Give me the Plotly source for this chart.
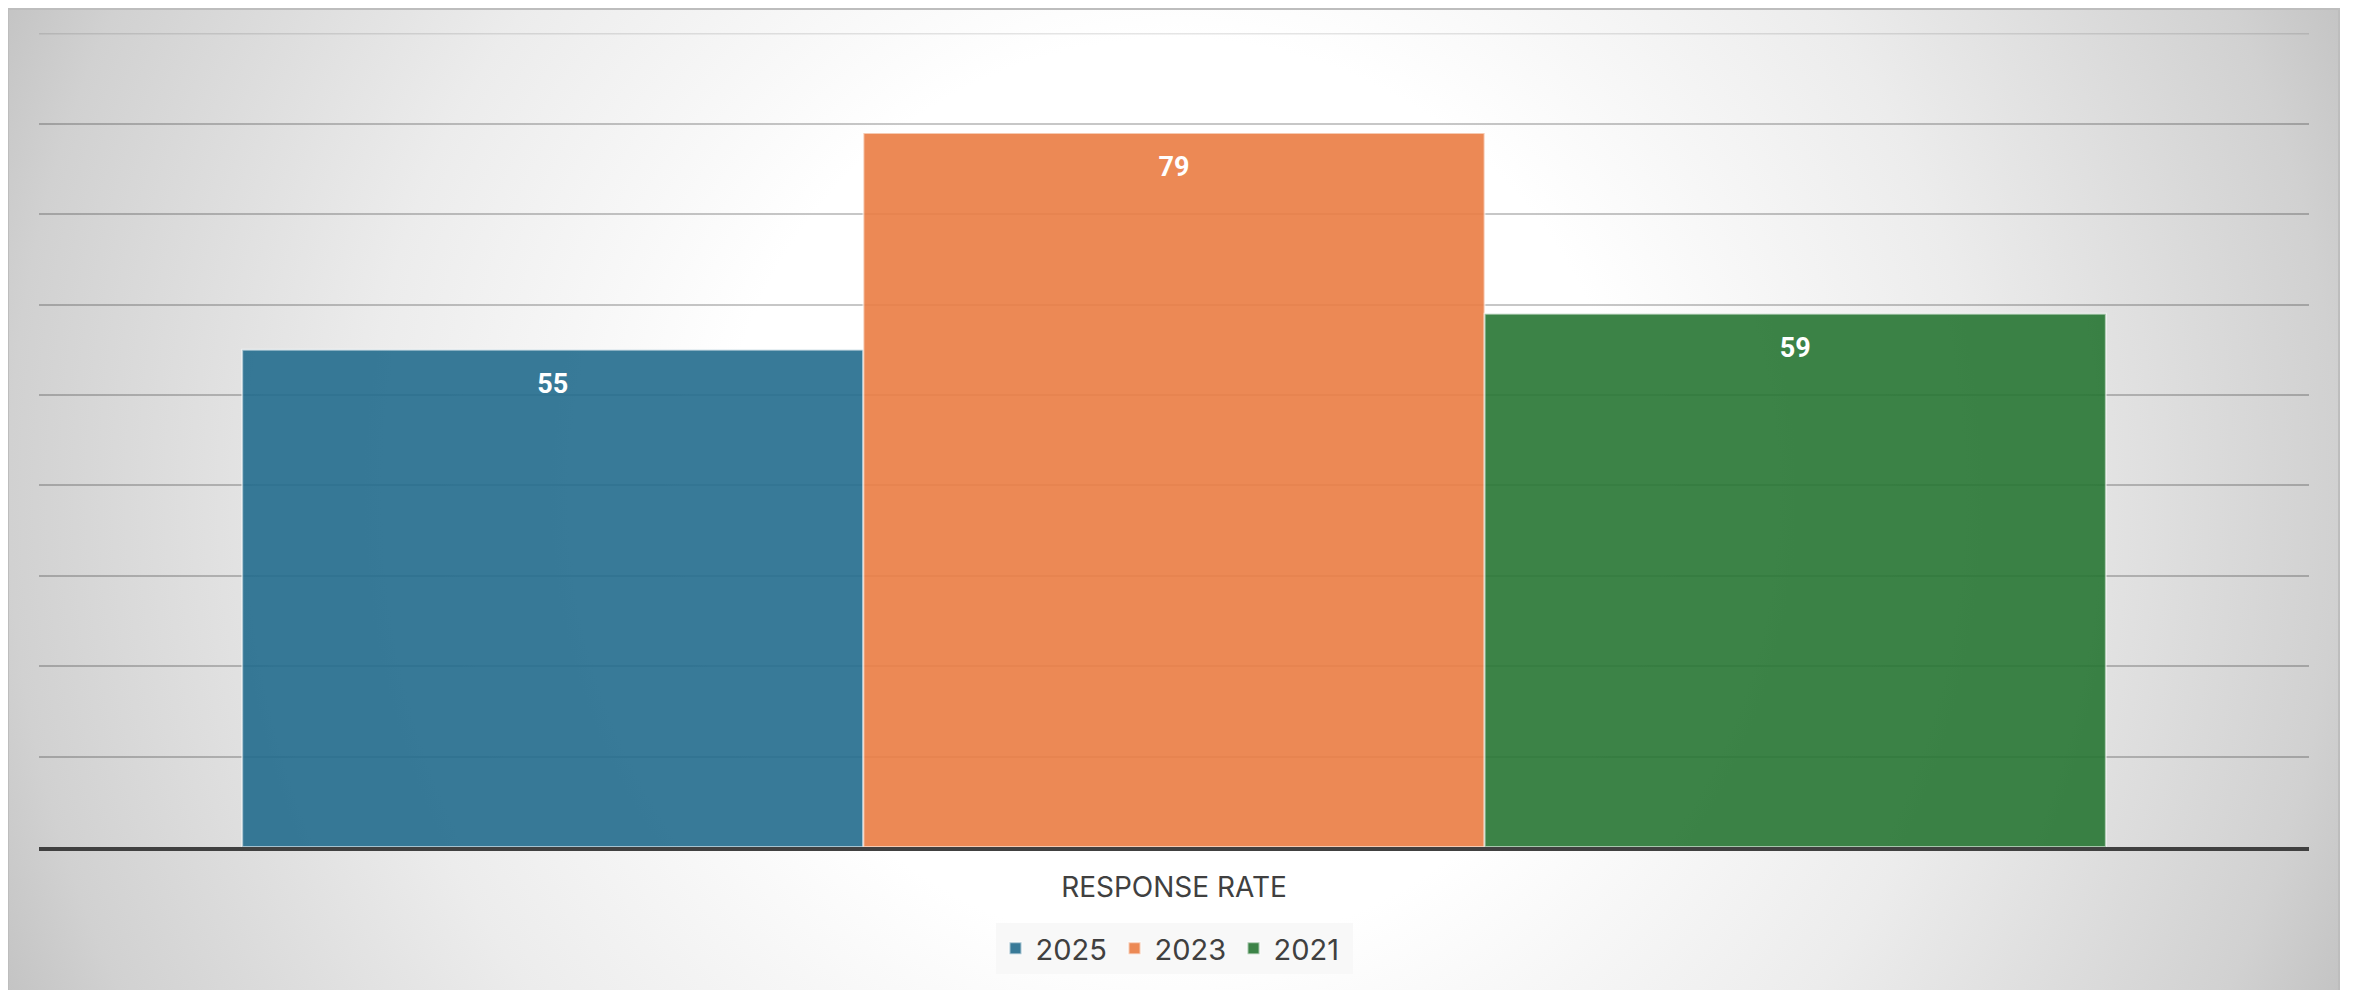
import base64
import plotly.graph_objects as go

# ---- data ----
categories = ["RESPONSE RATE"]
series_names = ["2025", "2023", "2021"]
values_2025 = [55]
values_2023 = [79]
values_2021 = [59]
series_values = [values_2025, values_2023, values_2021]
bar_colors = ["rgba(34,108,141,0.9)", "rgba(234,124,66,0.9)", "rgba(39,117,51,0.9)"]
y_max = 90

# page has an 8px body margin: figure coords = page coords - 8
OFF = 8
W, H = 2354 - OFF, 990 - OFF
L, R, T, B = 39 - OFF, 2354 - 2309, 33 - OFF, 990 - 847
pw, ph = W - L - R, H - T - B

def px_to_paper_x(px):
    return (px - OFF - L) / pw

def px_to_paper_y(py):
    return (H - B - (py - OFF)) / ph

# card region in page pixels
cx0, cy0, cx1, cy1 = 8, 9, 2339, 996
cw, ch = cx1 - cx0, cy1 - cy0

svg = f'''<svg xmlns="http://www.w3.org/2000/svg" width="{cw}" height="{ch}" viewBox="0 0 {cw} {ch}" preserveAspectRatio="none">
<defs><radialGradient id="g" gradientUnits="userSpaceOnUse" cx="{cw/2}" cy="{ch/2 - 8}" r="{((cw/2)**2+(ch/2)**2)**0.5}">
<stop offset="0" stop-color="#ffffff"/>
<stop offset="0.36" stop-color="#ffffff"/>
<stop offset="0.64" stop-color="#ececec"/>
<stop offset="0.92" stop-color="#d1d1d1"/>
<stop offset="1" stop-color="#c4c4c4"/>
</radialGradient></defs>
<rect x="0" y="0" width="{cw}" height="{ch}" fill="url(#g)"/>
</svg>'''
svg_uri = "data:image/svg+xml;base64," + base64.b64encode(svg.encode()).decode()

label_tpl = "<span style='font-size:5px;color:rgba(0,0,0,0)'>.</span><br>%{y}"

fig = go.Figure()
for name, vals, col in zip(series_names, series_values, bar_colors):
    fig.add_trace(go.Bar(
        name=name, x=categories, y=vals,
        marker=dict(color=col, line=dict(color="rgba(255,255,255,0.55)", width=2)),
        texttemplate=label_tpl,
        textposition="inside", insidetextanchor="end",
        textfont=dict(color="white", size=27, family="Roboto", weight="bold"),
        textangle=0,
    ))

fig.update_layout(
    width=W, height=H,
    margin=dict(l=L, r=R, t=T, b=B),
    paper_bgcolor="white",
    plot_bgcolor="rgba(0,0,0,0)",
    barmode="group", bargap=0.179, bargroupgap=0,
    font=dict(family="Inter, Roboto, sans-serif", color="#404040"),
    showlegend=True,
    legend=dict(
        orientation="h", x=0.5, xanchor="center",
        y=px_to_paper_y(923), yanchor="top",
        bgcolor="#f8f8f8", font=dict(size=29, color="#404040"),
        traceorder="normal", entrywidth=74, entrywidthmode="pixels",
        itemwidth=30,
    ),
    xaxis=dict(
        showline=True, linecolor="#404040", linewidth=4,
        showgrid=False, ticks="", tickfont=dict(size=28, color="#404040"),
        ticklabelstandoff=12,
    ),
    yaxis=dict(
        range=[0, y_max + 0.05], tick0=0, dtick=10, showticklabels=False,
        showgrid=True, gridcolor="rgba(0,0,0,0.22)", gridwidth=2,
        zeroline=False, showline=False,
    ),
    images=[dict(
        source=svg_uri, xref="paper", yref="paper",
        x=px_to_paper_x(cx0), y=px_to_paper_y(cy0),
        sizex=cw / pw, sizey=ch / ph,
        xanchor="left", yanchor="top", sizing="stretch", layer="below",
    )],
    shapes=[
        dict(
            type="rect", xref="paper", yref="paper",
            x0=px_to_paper_x(cx0), x1=px_to_paper_x(cx1),
            y0=px_to_paper_y(cy1), y1=px_to_paper_y(cy0),
            line=dict(color="#bdbdbd", width=2), fillcolor="rgba(0,0,0,0)",
            layer="below",
        ),
        dict(
            type="line", xref="paper", yref="y", x0=0, x1=1, y0=y_max, y1=y_max,
            line=dict(color="rgba(0,0,0,0.1)", width=2), layer="below",
        ),
    ],
)

fig.write_html("out.html")
